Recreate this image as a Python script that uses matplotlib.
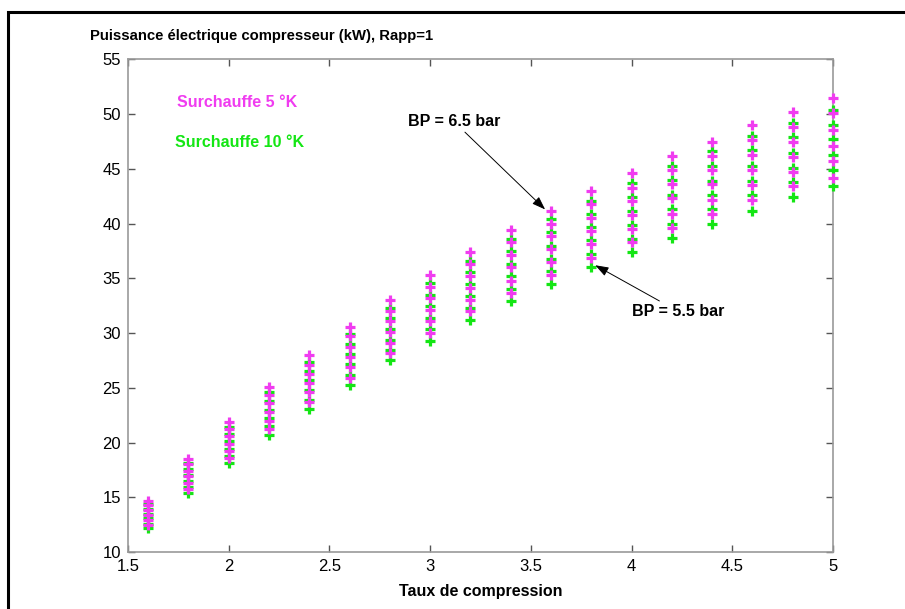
#Puissance electrique compresseur

import matplotlib
matplotlib.use('Agg')
import matplotlib.pyplot as plt
from matplotlib.patches import Rectangle
import numpy as np


#Data
taux = [1.6, 1.8, 2.0, 2.2, 2.4, 2.6, 2.8, 3.0, 3.2, 3.4, 3.6, 3.8, 4.0, 4.2, 4.4, 4.6, 4.8, 5.0]

# surchauffe 5 K, BP from 6.5 down to 5.5 bar
surch5 = [
    [14.7, 14.3, 13.8, 13.4, 12.9, 12.5],
    [18.5, 18.0, 17.4, 16.9, 16.3, 15.8],
    [21.9, 21.2, 20.6, 19.9, 19.2, 18.6],
    [25.1, 24.3, 23.6, 22.8, 22.0, 21.2],
    [28.0, 27.1, 26.3, 25.4, 24.6, 23.7],
    [30.6, 29.7, 28.7, 27.8, 26.9, 25.9],
    [33.0, 32.0, 31.1, 30.1, 29.1, 28.2],
    [35.3, 34.2, 33.2, 32.1, 31.1, 30.0],
    [37.4, 36.3, 35.2, 34.1, 33.0, 32.0],
    [39.4, 38.3, 37.1, 36.0, 34.8, 33.7],
    [41.2, 40.0, 38.9, 37.7, 36.5, 35.3],
    [43.0, 41.8, 40.5, 39.3, 38.1, 36.9],
    [44.6, 43.3, 42.1, 40.8, 39.5, 38.3],
    [46.2, 44.9, 43.6, 42.3, 40.9, 39.6],
    [47.5, 46.2, 44.9, 43.6, 42.2, 40.9],
    [49.0, 47.6, 46.3, 44.9, 43.5, 42.2],
    [50.2, 48.8, 47.5, 46.1, 44.7, 43.4],
    [51.5, 50.1, 48.6, 47.1, 45.7, 44.2],
]

# surchauffe 10 K
surch10 = [
    [14.4, 13.9, 13.5, 13.1, 12.6, 12.2],
    [18.1, 17.6, 17.0, 16.5, 15.9, 15.4],
    [21.4, 20.8, 20.1, 19.4, 18.8, 18.1],
    [24.6, 23.8, 23.0, 22.2, 21.5, 20.7],
    [27.4, 26.5, 25.7, 24.8, 23.9, 23.1],
    [29.9, 29.0, 28.1, 27.2, 26.2, 25.3],
    [32.3, 31.4, 30.4, 29.4, 28.5, 27.5],
    [34.6, 33.5, 32.5, 31.4, 30.4, 29.3],
    [36.6, 35.6, 34.5, 33.4, 32.3, 31.2],
    [38.6, 37.5, 36.3, 35.2, 34.0, 32.9],
    [40.4, 39.2, 38.0, 36.8, 35.7, 34.5],
    [42.1, 40.9, 39.7, 38.5, 37.2, 36.0],
    [43.7, 42.4, 41.2, 39.9, 38.6, 37.4],
    [45.3, 44.0, 42.6, 41.3, 40.0, 38.7],
    [46.6, 45.3, 43.9, 42.6, 41.3, 40.0],
    [48.0, 46.7, 45.3, 43.9, 42.6, 41.2],
    [49.2, 47.9, 46.5, 45.1, 43.8, 42.4],
    [50.4, 49.0, 47.7, 46.3, 44.9, 43.4],
]

xticks = [1.5, 2, 2.5, 3, 3.5, 4, 4.5, 5]
yticks = [10, 15, 20, 25, 30, 35, 40, 45, 50, 55]

magenta = '#f03cf0'
green = '#14e614'

plt.rcParams['font.family'] = ['Liberation Sans', 'DejaVu Sans']

#Setting up Chart
fig = plt.figure(figsize=(9.05, 6.09), dpi=100)
ax = fig.add_axes([0.1414, 0.0936, 0.7790, 0.8087])

x5 = np.repeat(taux, [len(c) for c in surch5])
x10 = np.repeat(taux, [len(c) for c in surch10])
ax.plot(x10, np.concatenate(surch10), '+', color=green, ms=7.6, mew=2.3,
        zorder=3, clip_on=False)
ax.plot(x5, np.concatenate(surch5), '+', color=magenta, ms=7.6, mew=2.3,
        zorder=4, clip_on=False)

ax.set(xlim=(1.5, 5), ylim=(10, 55))
ax.set_xticks(xticks)
ax.set_xticklabels(['1.5', '2', '2.5', '3', '3.5', '4', '4.5', '5'])
ax.set_yticks(yticks)
ax.tick_params(direction='in', top=True, right=True, length=5, width=1,
               color='#555555', labelsize=12, pad=5)
for s in ax.spines.values():
    s.set_color('#9a9a9a')
    s.set_linewidth(1.2)

ax.set_xlabel('Taux de compression', fontsize=11.5, fontweight='bold', labelpad=7)
fig.text(90 / 905, 1 - 36 / 609, 'Puissance électrique compresseur (kW), Rapp=1',
         fontsize=10.7, fontweight='bold', va='center', ha='left')

ax.text(1.743, 51.1, 'Surchauffe 5 °K', color=magenta, fontsize=11.5,
        fontweight='bold', va='center')
ax.text(1.733, 47.45, 'Surchauffe 10 °K', color=green, fontsize=11.5,
        fontweight='bold', va='center')

arrow = dict(arrowstyle='-|>,head_length=0.7,head_width=0.25', color='black',
             lw=0.7, shrinkA=0, shrinkB=0)
ax.annotate('BP = 6.5 bar', xy=(3.571, 41.3), xytext=(3.12, 49.3),
            fontsize=11.5, fontweight='bold', ha='center', va='center',
            arrowprops=arrow)
ax.annotate('BP = 5.5 bar', xy=(3.82, 36.2), xytext=(4.23, 32.0),
            fontsize=11.5, fontweight='bold', ha='center', va='center',
            arrowprops=arrow)

# black frame around the figure
fig.add_artist(Rectangle((8 / 905, -0.1), 1.2, 1.1 - 12.5 / 609,
                         transform=fig.transFigure, fill=False,
                         lw=2.2, edgecolor='black'))

fig.savefig('out.png', dpi=100)
